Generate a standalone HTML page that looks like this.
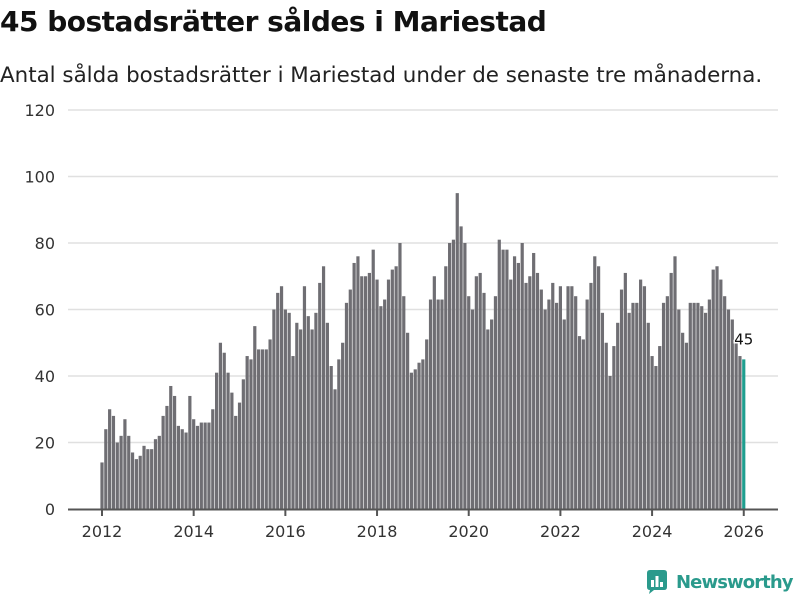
<!DOCTYPE html>
<html><head><meta charset="utf-8"><style>
body{margin:0;width:800px;height:600px;background:#fff;font-family:"Liberation Sans","DejaVu Sans",sans-serif;overflow:hidden}
h1{position:absolute;left:0;top:5px;margin:0;font-size:28px;font-weight:bold;color:#111;font-family:"DejaVu Sans","Liberation Sans",sans-serif;letter-spacing:-0.5px}
.sub{position:absolute;left:0;top:63px;font-size:21.4px;color:#222;font-family:"DejaVu Sans","Liberation Sans",sans-serif}
</style></head><body>
<h1>45 bostadsrätter såldes i Mariestad</h1>
<div class="sub">Antal sålda bostadsrätter i Mariestad under de senaste tre månaderna.</div>
<svg id="chart" width="800" height="600" style="position:absolute;left:0;top:0"></svg>
<div style="position:absolute;left:645px;top:569px;display:flex;align-items:center">
<svg width="24" height="26"><path d="M2 4 Q2 1 5 1 L19 1 Q22 1 22 4 L22 18 Q22 21 19 21 L9 21 L4 25 L5 21 Q2 21 2 18 Z" fill="#2a9a8c"/><rect x="6" y="11" width="3" height="7" fill="#fff"/><rect x="10.5" y="7" width="3" height="11" fill="#fff"/><rect x="15" y="13" width="3" height="5" fill="#fff"/></svg>
<span style="font-size:18px;font-weight:bold;color:#2a9a8c;margin-left:7px;letter-spacing:-0.9px;font-family:'DejaVu Sans','Liberation Sans',sans-serif">Newsworthy</span></div>
<script>
const values=[14,24,30,28,20,22,27,22,17,15,16,19,18,18,21,22,28,31,37,34,25,24,23,34,27,25,26,26,26,30,41,50,47,41,35,28,32,39,46,45,55,48,48,48,51,60,65,67,60,59,46,56,54,67,58,54,59,68,73,56,43,36,45,50,62,66,74,76,70,70,71,78,69,61,63,69,72,73,80,64,53,41,42,44,45,51,63,70,63,63,73,80,81,95,85,80,64,60,70,71,65,54,57,64,81,78,78,69,76,74,80,68,70,77,71,66,60,63,68,62,67,57,67,67,64,52,51,63,68,76,73,59,50,40,49,56,66,71,59,62,62,69,67,56,46,43,49,62,64,71,76,60,53,50,62,62,62,61,59,63,72,73,69,64,60,57,50,46,45];
const yTicks=[0,20,40,60,80,100,120];
const xYears=[2012,2014,2016,2018,2020,2022,2024,2026];
const NS="http://www.w3.org/2000/svg";
const svg=document.getElementById('chart');
const y=v=>509-v*(399/120);
const xi=i=>102+i*3.82;
const xYear=yr=>102+(yr-2012)*12*3.82;
function mk(t,a){const e=document.createElementNS(NS,t);for(const k in a)e.setAttribute(k,a[k]);svg.appendChild(e);return e;}
yTicks.forEach(v=>{
 if(v>0){const g=mk('line',{x1:68,x2:778,y1:y(v),y2:y(v),stroke:'#e0e0e0','stroke-width':1.5});
 
 }
 const t=mk('text',{x:55,y:y(v)+6,'text-anchor':'end','font-size':16,fill:'#333','font-family':'DejaVu Sans, Liberation Sans, sans-serif'});
 t.textContent=v;
 
 
});
values.forEach((v,i)=>{
 const last=i===values.length-1;
 const r=mk('rect',{x:xi(i)-1.6,y:y(v),width:3.2,height:509-y(v),fill:last?'#1f9e8f':'#6f6e73'});
 
 
});
const ax=mk('line',{x1:68,x2:778,y1:509.5,y2:509.5,stroke:'#555','stroke-width':2});


xYears.forEach(yr=>{
 const tk=mk('line',{x1:xYear(yr),x2:xYear(yr),y1:509,y2:516,stroke:'#555','stroke-width':2});
 
 
 const t=mk('text',{x:xYear(yr),y:537,'text-anchor':'middle','font-size':16,fill:'#333','font-family':'DejaVu Sans, Liberation Sans, sans-serif'});
 t.textContent=yr;
 
 
});
const lv=values[values.length-1];
const lb=mk('text',{x:xi(values.length-1),y:y(lv)-15,'text-anchor':'middle','font-size':15,fill:'#111',stroke:'#fff','stroke-width':3,'paint-order':'stroke','font-family':'DejaVu Sans, Liberation Sans, sans-serif'});
lb.textContent=lv;


</script>
</body></html>
